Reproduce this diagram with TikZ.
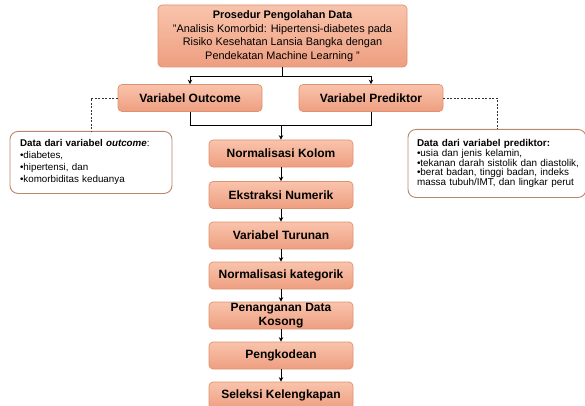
\documentclass[tikz,border=0pt]{standalone}
\usepackage{fontspec}
\setmainfont{Liberation Sans}
\usetikzlibrary{arrows.meta,calc}
\definecolor{boxtop}{HTML}{F9C4AC}
\definecolor{boxbot}{HTML}{EE9E80}
\definecolor{boxline}{HTML}{E0916F}
\definecolor{noteline}{HTML}{B8876C}
\tikzset{
  stepbox/.style={rectangle, rounded corners=4pt, draw=boxline, line width=0.7pt,
    top color=boxtop, bottom color=boxbot, minimum width=144pt, minimum height=27pt,
    inner sep=1pt, align=center, font=\fontsize{12}{12.5}\selectfont\bfseries},
  notebox/.style={rectangle, rounded corners=8pt, draw=noteline, line width=0.9pt,
    fill=white, align=left, inner sep=3pt, anchor=north},
  conn/.style={draw=black, line width=1pt, -{Stealth[length=4.5pt,width=4.5pt]}},
  plain/.style={draw=black, line width=1pt},
  dashline/.style={draw=black!80, line width=0.7pt, dash pattern=on 2pt off 1.5pt}
}
\begin{document}
\begin{tikzpicture}[x=1pt,y=-1pt]
\useasboundingbox (0,0) rectangle (585,406);
\node[stepbox, minimum width=249pt, minimum height=62pt,
  font=\fontsize{10.9}{13.6}\selectfont] (top) at (282.5,36)
  {\textbf{Prosedur Pengolahan Data}\\
   "Analisis Komorbid: Hipertensi-diabetes pada\\
   Risiko Kesehatan Lansia Bangka dengan\\
   Pendekatan Machine Learning "};
\node[stepbox] (out) at (190,98) {Variabel Outcome};
\node[stepbox] (pred) at (371,98) {Variabel Prediktor};
\node[stepbox] (n1) at (281,153.5) {Normalisasi Kolom};
\node[stepbox] (n2) at (281,195) {Ekstraksi Numerik};
\node[stepbox] (n3) at (281,235.5) {Variabel Turunan};
\node[stepbox] (n4) at (281,275.5) {Normalisasi kategorik};
\node[stepbox, font=\fontsize{12}{13.5}\selectfont\bfseries] (n5) at (281,315.5) {Penanganan Data\\Kosong};
\node[stepbox] (n6) at (281,355.5) {Pengkodean};
\node[stepbox] (n7) at (281,395.5) {Seleksi Kelengkapan};
\node[notebox, minimum width=162pt, minimum height=62pt, text width=142pt, inner xsep=10pt,
  font=\fontsize{9.8}{12}\selectfont] (od) at (91,131)
  {\textbf{Data dari variabel \textit{outcome}}:\\
   •diabetes,\\
   •hipertensi, dan\\
   •komorbiditas keduanya};
\node[notebox, minimum width=178pt, minimum height=68pt, text width=160pt,
  inner xsep=9pt, inner ysep=2pt,
  font=\fontsize{9.9}{9.6}\selectfont] (pd) at (497,129)
  {\textbf{Data dari variabel prediktor:}\\
   •usia dan jenis kelamin,\\
   \makebox[160pt][l]{•tekanan darah sistolik dan diastolik,}\\
   •berat badan, tinggi badan, indeks\\
   massa tubuh/IMT, dan lingkar perut};
\coordinate (j1) at (282.5,77);
\coordinate (j2) at (281,126);
\draw[plain] (top.south) -- (j1);
\draw[conn] (j1) -| (out.north);
\draw[conn] (j1) -| (pred.north);
\draw[plain] (out.south) |- (j2);
\draw[plain] (pred.south) |- (j2);
\draw[conn] (j2) -- (n1.north);
\draw[conn] (n1) -- (n2);
\draw[conn] (n2) -- (n3);
\draw[conn] (n3) -- (n4);
\draw[conn] (n4) -- (n5);
\draw[conn] (n5) -- (n6);
\draw[conn] (n6) -- (n7);
\draw[dashline] (out.west) -| (od.north);
\draw[dashline] (pred.east) -| (pd.north);
\end{tikzpicture}
\end{document}
